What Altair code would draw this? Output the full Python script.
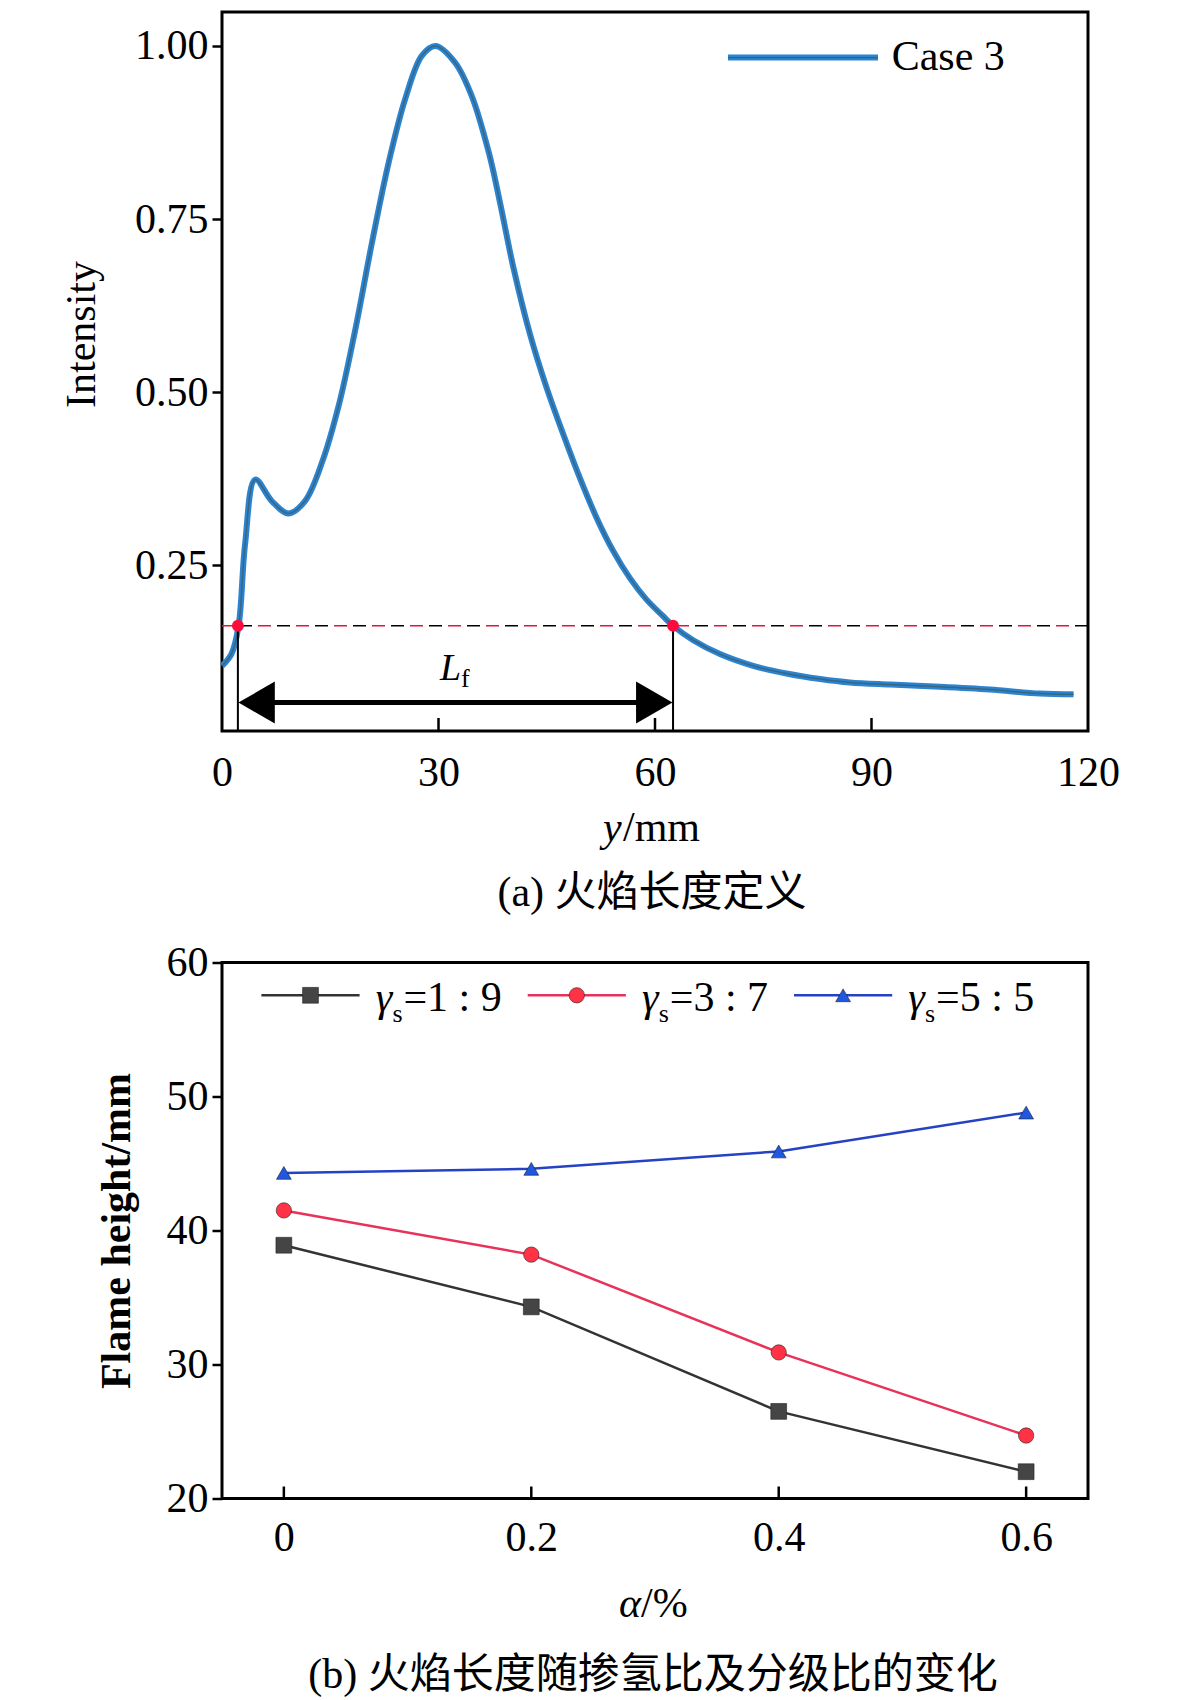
import altair as alt
import pandas as pd

# ---------------- data: (a) intensity profile ----------------
pos_mm = [0, 1.3, 2.3, 3.2, 4.6, 6.9, 9.2, 11.5, 13.9, 16.2, 18.5, 20.8, 23.1, 25.4,
          27.7, 29.6, 32.3, 34.6, 37.0, 38.5, 40.4, 42.7, 45.0, 47.3, 49.6, 51.9, 54.2,
          56.5, 58.8, 61.1, 62.5, 65.3, 69.0, 73.6, 78.2, 82.9, 87.0, 92.6,
          99.5, 106.4, 113.3, 118.0]
intensity = [0.105, 0.122, 0.163, 0.281, 0.374, 0.343, 0.325, 0.343, 0.400, 0.482,
             0.592, 0.717, 0.832, 0.924, 0.986, 1.000, 0.976, 0.928, 0.845, 0.775, 0.679,
             0.583, 0.506, 0.439, 0.376, 0.319, 0.271, 0.232, 0.201, 0.177, 0.163,
             0.142, 0.122, 0.105, 0.094, 0.086, 0.081, 0.078, 0.075, 0.071,
             0.065, 0.064]
threshold = 0.163
lf_start = 2.2
lf_end = 62.5
arrow_level = 0.052
lf_label_pos = [30.2, 0.084]
x_ticks_a = [0, 30, 60, 90, 120]
x_inner_ticks_a = [30, 60, 90]
y_ticks_a = [0.25, 0.50, 0.75, 1.00]
legend_a = ["Case 3"]
caption_a = "(a) 火焰长度定义"

# ---------------- data: (b) flame height ----------------
alpha = [0, 0.2, 0.4, 0.6]
series_names = ["1 : 9", "3 : 7", "5 : 5"]
h_19 = [38.9, 34.3, 26.5, 22.0]
h_37 = [41.5, 38.2, 30.9, 24.7]
h_55 = [44.3, 44.6, 45.9, 48.8]
x_ticks_b = [0, 0.2, 0.4, 0.6]
y_ticks_b = [20, 30, 40, 50, 60]
caption_b = "(b) 火焰长度随掺氢比及分级比的变化"

# ---------------- style ----------------
SERIF = "Liberation Serif"
MIXED = "Liberation Serif, Noto Sans CJK SC"
W = 866
HA = 719
HB = 536
BLUE = "#2a84d2"
line_colors = ["#333333", "#e8325a", "#2541c4"]
marker_colors = ["#454545", "#ff3345", "#1f57e0"]
shapes = ["square", "circle", "triangle-up"]
sizes = [250, 220, 340]

YA_MIN, YA_MAX = 0.011, 1.049

# ================= chart (a) =================
df_curve = pd.DataFrame({"pos": pos_mm, "I": intensity})

x_a = alt.X("pos:Q", scale=alt.Scale(domain=[0, 120], nice=False, zero=False),
            axis=alt.Axis(values=x_ticks_a, title=None, ticks=False, domain=False, grid=False,
                          labelPadding=21, labelFontSize=42, labelFont=SERIF, format="d",
                          labelColor="black", labelFlush=False))
y_a = alt.Y("I:Q", scale=alt.Scale(domain=[YA_MIN, YA_MAX], nice=False, zero=False),
            axis=alt.Axis(values=y_ticks_a, format=".2f", title="Intensity", titleFont=SERIF,
                          titleFontSize=42, titleFontWeight="normal", titleAngle=-90,
                          titleX=-128, titleY=322, titleBaseline="alphabetic",
                          titleAlign="center", titleColor="black",
                          ticks=True, tickSize=10, tickWidth=2.5, tickColor="black",
                          labelPadding=4, labelFontSize=42, labelFont=SERIF,
                          labelColor="black", domain=False, grid=False))

curve_main = alt.Chart(df_curve).mark_line(color=BLUE, strokeWidth=6,
                                            interpolate="catmull-rom").encode(x=x_a, y=y_a)
curve_core = alt.Chart(df_curve).mark_line(color="#3f5f6f", strokeWidth=1.5, opacity=0.85,
                                            interpolate="catmull-rom").encode(
    x="pos:Q", y="I:Q")

df_th = pd.DataFrame({"I": [threshold]})
th_black = alt.Chart(df_th).mark_rule(color="black", strokeWidth=1.6, strokeDash=[13, 25]).encode(
    y="I:Q")
th_red = alt.Chart(df_th).mark_rule(color="#e8103c", strokeWidth=1.6, strokeDash=[13, 25],
                                    strokeDashOffset=19).encode(y="I:Q")

df_vert = pd.DataFrame({"pos": [lf_start, lf_end], "I": [threshold, threshold],
                        "I0": [YA_MIN, YA_MIN]})
verts = alt.Chart(df_vert).mark_rule(color="black", strokeWidth=2).encode(
    x="pos:Q", y="I0:Q", y2="I:Q")
dots = alt.Chart(df_vert).mark_point(filled=True, shape="circle", size=140, color="#ff0a3c",
                                     opacity=1).encode(x="pos:Q", y="I:Q")

df_arrow = pd.DataFrame({"pos": [lf_start + 2.0], "pos2": [lf_end - 2.0], "I": [arrow_level]})
shaft = alt.Chart(df_arrow).mark_rule(color="black", strokeWidth=5).encode(
    x="pos:Q", x2="pos2:Q", y="I:Q")
df_head_l = pd.DataFrame({"pos": [lf_start + 2.6], "I": [arrow_level]})
df_head_r = pd.DataFrame({"pos": [lf_end - 2.6], "I": [arrow_level]})
head_l = alt.Chart(df_head_l).mark_point(filled=True, size=1764, color="black", opacity=1,
                                         shape="triangle-left").encode(x="pos:Q", y="I:Q")
head_r = alt.Chart(df_head_r).mark_point(filled=True, size=1764, color="black", opacity=1,
                                         shape="triangle-right").encode(x="pos:Q", y="I:Q")

df_lf = pd.DataFrame({"pos": [lf_label_pos[0]], "I": [lf_label_pos[1]], "L": ["L"], "f": ["f"]})
lf_L = alt.Chart(df_lf).mark_text(font=SERIF, fontSize=38, fontStyle="italic", align="left",
                                  baseline="alphabetic", color="black").encode(
    x="pos:Q", y="I:Q", text="L:N")
lf_f = alt.Chart(df_lf).mark_text(font=SERIF, fontSize=26, align="left", baseline="alphabetic",
                                  dx=21, dy=7, color="black").encode(
    x="pos:Q", y="I:Q", text="f:N")

df_ticks_a = pd.DataFrame({"pos": x_inner_ticks_a})
inner_ticks_a = alt.Chart(df_ticks_a).mark_rule(color="black", strokeWidth=2.5).encode(
    x="pos:Q", y=alt.value(HA), y2=alt.value(HA - 13))

df_leg_a = pd.DataFrame({"label": legend_a})
leg_a_line = alt.Chart(df_leg_a).mark_rule(color=BLUE, strokeWidth=6).encode(
    x=alt.value(506), x2=alt.value(656), y=alt.value(45.6))
leg_a_core = alt.Chart(df_leg_a).mark_rule(color="#3f5f6f", strokeWidth=1.2).encode(
    x=alt.value(506), x2=alt.value(656), y=alt.value(45.6))
leg_a_text = alt.Chart(df_leg_a).mark_text(font=SERIF, fontSize=42, align="left",
                                           baseline="alphabetic", color="black").encode(
    x=alt.value(669.7), y=alt.value(58), text="label:N")

df_xt_a = pd.DataFrame({"a": ["y"], "b": ["/mm"], "cap": [caption_a]})
xt_a1 = alt.Chart(df_xt_a).mark_text(font=SERIF, fontSize=42, fontStyle="italic", align="left",
                                     baseline="alphabetic", color="black").encode(
    x=alt.value(381), y=alt.value(829), text="a:N")
xt_a2 = alt.Chart(df_xt_a).mark_text(font=SERIF, fontSize=42, align="left",
                                     baseline="alphabetic", color="black").encode(
    x=alt.value(401), y=alt.value(829), text="b:N")
cap_a = alt.Chart(df_xt_a).mark_text(font=MIXED, fontSize=42, align="center",
                                     baseline="alphabetic", color="black").encode(
    x=alt.value(430), y=alt.value(894), text="cap:N")

chart_a = alt.layer(
    curve_main, th_black, th_red, inner_ticks_a, curve_core, verts, dots, shaft, head_l, head_r,
    lf_L, lf_f, leg_a_line, leg_a_core, leg_a_text, xt_a1, xt_a2, cap_a
).properties(width=W, height=HA)

# ================= chart (b) =================
rows = []
for name, vals in zip(series_names, [h_19, h_37, h_55]):
    for a, v in zip(alpha, vals):
        rows.append({"alpha": a, "h": v, "series": name})
df_b = pd.DataFrame(rows)

color_line = alt.Scale(domain=series_names, range=line_colors)
color_mark = alt.Scale(domain=series_names, range=marker_colors)
shape_scale = alt.Scale(domain=series_names, range=shapes)
size_scale = alt.Scale(domain=series_names, range=sizes)

x_b = alt.X("alpha:Q", scale=alt.Scale(domain=[-0.05, 0.65], nice=False, zero=False),
            axis=alt.Axis(values=x_ticks_b, title=None, ticks=False, domain=False, grid=False,
                          labelPadding=19, labelFontSize=42, labelFont=SERIF, format="~g",
                          labelColor="black"))
y_b = alt.Y("h:Q", scale=alt.Scale(domain=[20, 60], nice=False, zero=False),
            axis=alt.Axis(values=y_ticks_b, format="d", title="Flame height/mm", titleFont=SERIF,
                          titleFontSize=42, titleFontWeight="bold", titleAngle=-90,
                          titleX=-93, titleY=268, titleBaseline="alphabetic",
                          titleAlign="center", titleColor="black",
                          ticks=True, tickSize=10, tickWidth=2.5, tickColor="black",
                          labelPadding=4, labelFontSize=42, labelFont=SERIF,
                          labelColor="black", domain=False, grid=False))

lines_b = alt.Chart(df_b).mark_line(strokeWidth=2.5).encode(
    x=x_b, y=y_b, color=alt.Color("series:N", scale=color_line, legend=None), detail="series:N")
pts_b = alt.Chart(df_b).mark_point(filled=True, opacity=1, stroke="#222222", strokeWidth=0.6).encode(
    x="alpha:Q", y="h:Q",
    fill=alt.Fill("series:N", scale=color_mark, legend=None),
    shape=alt.Shape("series:N", scale=shape_scale, legend=None),
    size=alt.Size("series:N", scale=size_scale, legend=None))

df_ticks_b = pd.DataFrame({"alpha": x_ticks_b})
inner_ticks_b = alt.Chart(df_ticks_b).mark_rule(color="black", strokeWidth=2.5).encode(
    x="alpha:Q", y=alt.value(HB), y2=alt.value(HB - 12))

# custom legend (pixel layout)
leg_rows = []
for i, name in enumerate(series_names):
    x0 = 39.4 + 266.3 * i
    leg_rows.append({"series": name, "x0": x0, "x1": x0 + 98.2, "xm": x0 + 49.1,
                     "xg": x0 + 114.3, "xs": x0 + 131.0, "xe": x0 + 142.0,
                     "g": "γ", "s": "s", "rest": "=" + name})
df_leg_b = pd.DataFrame(leg_rows)
leg_b_line = alt.Chart(df_leg_b).mark_rule(strokeWidth=2.5).encode(
    x=alt.X("x0:Q", scale=None, axis=None), x2="x1:Q", y=alt.value(32.8),
    color=alt.Color("series:N", scale=color_line, legend=None))
leg_b_pt = alt.Chart(df_leg_b).mark_point(filled=True, opacity=1, stroke="#222222",
                                          strokeWidth=0.6).encode(
    x=alt.X("xm:Q", scale=None, axis=None), y=alt.value(32.8),
    fill=alt.Fill("series:N", scale=color_mark, legend=None),
    shape=alt.Shape("series:N", scale=shape_scale, legend=None),
    size=alt.Size("series:N", scale=size_scale, legend=None))
leg_b_g = alt.Chart(df_leg_b).mark_text(font=SERIF, fontSize=42, fontStyle="italic", align="left",
                                        baseline="alphabetic", color="black").encode(
    x=alt.X("xg:Q", scale=None, axis=None), y=alt.value(48), text="g:N")
leg_b_s = alt.Chart(df_leg_b).mark_text(font=SERIF, fontSize=26, align="left",
                                        baseline="alphabetic", color="black").encode(
    x=alt.X("xs:Q", scale=None, axis=None), y=alt.value(59), text="s:N")
leg_b_r = alt.Chart(df_leg_b).mark_text(font=SERIF, fontSize=42, align="left",
                                        baseline="alphabetic", color="black").encode(
    x=alt.X("xe:Q", scale=None, axis=None), y=alt.value(48), text="rest:N")

df_xt_b = pd.DataFrame({"a": ["α"], "b": ["/%"], "cap": [caption_b]})
xt_b1 = alt.Chart(df_xt_b).mark_text(font=SERIF, fontSize=42, fontStyle="italic", align="left",
                                     baseline="alphabetic", color="black").encode(
    x=alt.value(397), y=alt.value(654), text="a:N")
xt_b2 = alt.Chart(df_xt_b).mark_text(font=SERIF, fontSize=42, align="left",
                                     baseline="alphabetic", color="black").encode(
    x=alt.value(419), y=alt.value(654), text="b:N")
cap_b = alt.Chart(df_xt_b).mark_text(font=MIXED, fontSize=42, align="center",
                                     baseline="alphabetic", color="black").encode(
    x=alt.value(431), y=alt.value(725), text="cap:N")

chart_b = alt.layer(
    lines_b, inner_ticks_b, pts_b, leg_b_line, leg_b_pt, leg_b_g, leg_b_s, leg_b_r,
    xt_b1, xt_b2, cap_b
).properties(width=W, height=HB)

chart = alt.vconcat(chart_a, chart_b, spacing=23.5).properties(
    padding={"top": 2, "left": 50, "right": 5, "bottom": 2},
    background="white",
).resolve_scale(color="independent", fill="independent", shape="independent",
                size="independent").configure_view(stroke="black", strokeWidth=3).configure_axis(
    labelFont=SERIF, titleFont=SERIF, labelColor="black", titleColor="black")

chart.save("out.html", embed_options={"renderer": "svg", "actions": False})
